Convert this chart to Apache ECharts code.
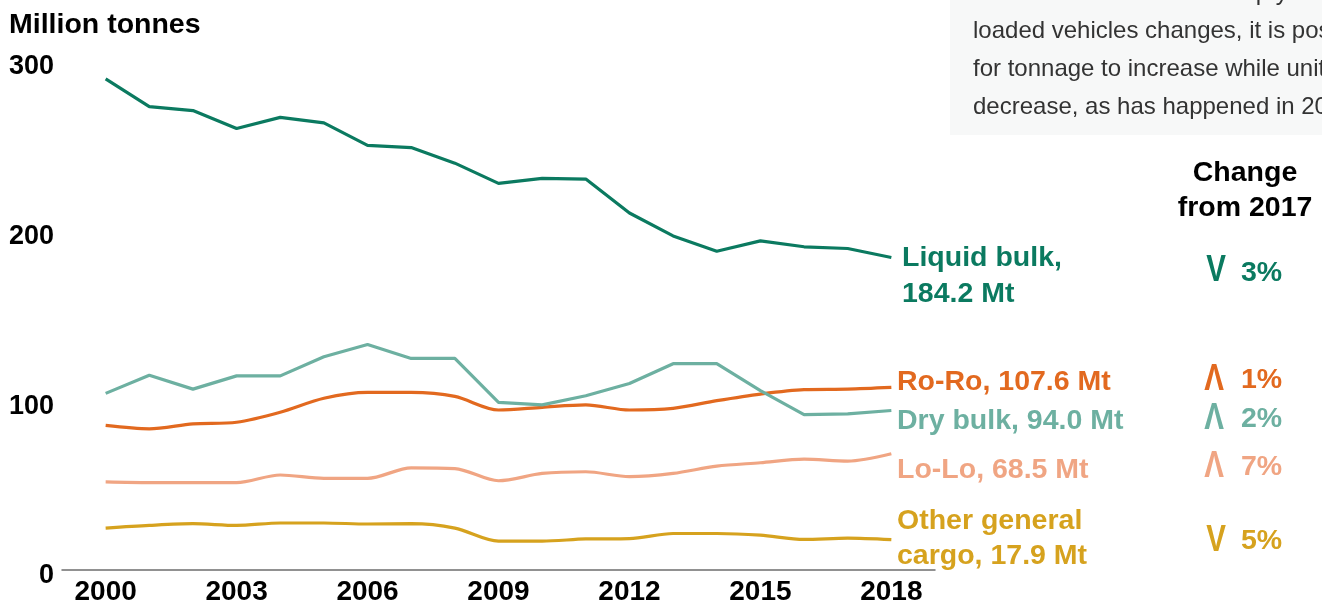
<!DOCTYPE html>
<html lang="en">
<head>
<meta charset="UTF-8" />
<title>Port freight tonnage by cargo type</title>
<script src="https://cdn.jsdelivr.net/npm/echarts@6/dist/echarts.min.js"></script>
<style>
  html, body { margin: 0; padding: 0; background: #fff; }
  #chart { width: 1322px; height: 606px; }
</style>
</head>
<body>
<div id="chart"></div>
<script>
// values, million tonnes
const years = [2000, 2001, 2002, 2003, 2004, 2005, 2006, 2007, 2008, 2009,
               2010, 2011, 2012, 2013, 2014, 2015, 2016, 2017, 2018];
const liquidBulk = [289.5, 273.1, 270.8, 260.2, 266.8, 263.5, 250.3, 249.0, 239.8, 227.9,
                    230.8, 230.4, 210.4, 196.9, 187.9, 194.0, 190.5, 189.5, 184.2];
const roRo = [85.2, 83.2, 86.1, 87.1, 93.0, 101.2, 104.7, 104.7, 102.3, 94.3,
              95.9, 97.3, 94.3, 95.3, 99.8, 103.7, 106.3, 106.6, 107.6];
const dryBulk = [104.1, 114.8, 106.6, 114.4, 114.4, 125.7, 132.9, 124.7, 124.7, 98.8,
                 97.3, 102.7, 109.9, 121.6, 121.6, 105.7, 91.6, 92.0, 94.0];
const loLo = [51.9, 51.5, 51.5, 51.5, 56.0, 54.0, 54.0, 60.2, 59.8, 52.6,
              56.9, 57.9, 55.0, 56.9, 61.2, 63.2, 65.3, 64.2, 68.5];
const otherCargo = [24.7, 26.3, 27.3, 26.3, 27.7, 27.7, 27.1, 27.3, 24.7, 17.0,
                    17.0, 18.3, 18.5, 21.5, 21.5, 20.5, 18.0, 18.8, 17.9];
const yTicks = [0, 100, 200, 300];
const xTickYears = [2000, 2003, 2006, 2009, 2012, 2015, 2018];

const FONT = "'Liberation Sans', Arial, sans-serif";
const C = {
    liquid: '#0b7a60',
    roro: '#e2691f',
    dry: '#6db0a1',
    lolo: '#f0a583',
    other: '#d6a21e'
};

const pairs = (vals) => years.map((y, i) => [y, vals[i]]);

const chart = echarts.init(document.getElementById('chart'));

const lineSeries = (name, vals, color, smooth) => ({
    name: name,
    type: 'line',
    data: pairs(vals),
    showSymbol: false,
    smooth: smooth,
    lineStyle: { color: color, width: 3.2 },
    itemStyle: { color: color },
    silent: true
});

const label = (x, y, text, color, align) => ({
    type: 'text',
    x: x, y: y,
    style: {
        text: text,
        fill: color,
        font: 'bold 28.5px ' + FONT,
        align: align || 'left',
        verticalAlign: 'middle'
    }
});

// arrow glyph + percentage, "change from 2017" column
const change = (xArrow, yArrow, yPct, arrow, pct, color) => [
    {
        type: 'text',
        x: xArrow, y: yArrow,
        scaleX: 0.82,
        style: { text: arrow, fill: color, font: 'bold 36px ' + FONT, align: 'center', verticalAlign: 'middle' }
    },
    {
        type: 'text',
        x: 1241, y: yPct,
        style: { text: pct, fill: color, font: 'bold 28.5px ' + FONT, verticalAlign: 'middle' }
    }
];

const noteLine = (y, text) => ({
    type: 'text', x: 973, y: y,
    style: { text: text, fill: '#333', font: '24px ' + FONT, verticalAlign: 'bottom' }
});

const option = {
    animation: false,
    backgroundColor: '#ffffff',
    grid: { left: 62, right: 387, top: 61, bottom: 32 },
    xAxis: {
        type: 'value',
        min: 1999,
        max: 2019,
        interval: 1,
        axisLine: { show: true, lineStyle: { color: '#6e6e6e', width: 1.5 } },
        axisTick: { show: false },
        splitLine: { show: false },
        axisLabel: {
            margin: 8,
            color: '#000',
            fontFamily: FONT,
            fontWeight: 'bold',
            fontSize: 28,
            formatter: (v) => xTickYears.indexOf(v) >= 0 ? String(v) : ''
        }
    },
    yAxis: {
        type: 'value',
        min: yTicks[0],
        max: yTicks[yTicks.length - 1],
        interval: 100,
        axisLine: { show: false },
        axisTick: { show: false },
        splitLine: { show: false },
        axisLabel: {
            margin: 8,
            formatter: (v) => '{v|' + v + '}',
            rich: {
                v: {
                    color: '#000',
                    fontFamily: FONT,
                    fontWeight: 'bold',
                    fontSize: 27,
                    padding: [12, 0, 0, 0]
                }
            }
        }
    },
    series: [
        lineSeries('Other general cargo', otherCargo, C.other, 0.3),
        lineSeries('Lo-Lo', loLo, C.lolo, 0.3),
        lineSeries('Ro-Ro', roRo, C.roro, 0.3),
        lineSeries('Dry bulk', dryBulk, C.dry, false),
        lineSeries('Liquid bulk', liquidBulk, C.liquid, false)
    ],
    graphic: [
        // note box, top right
        { type: 'rect', shape: { x: 950, y: 0, width: 372, height: 135 }, style: { fill: '#f7f8f8' } },
        noteLine(5, 'Therefore if the ratio of empty to'),
        noteLine(43, 'loaded vehicles changes, it is possible'),
        noteLine(81, 'for tonnage to increase while units'),
        noteLine(119, 'decrease, as has happened in 2018.'),

        label(9, 25, 'Million tonnes', '#000'),

        label(902, 258, 'Liquid bulk,', C.liquid),
        label(902, 294, '184.2 Mt', C.liquid),
        label(897, 382, 'Ro-Ro, 107.6 Mt', C.roro),
        label(897, 421, 'Dry bulk, 94.0 Mt', C.dry),
        label(897, 470, 'Lo-Lo, 68.5 Mt', C.lolo),
        label(897, 521, 'Other general', C.other),
        label(897, 556, 'cargo, 17.9 Mt', C.other),

        label(1245, 173, 'Change', '#000', 'center'),
        label(1245, 208, 'from 2017', '#000', 'center')
    ].concat(
        change(1216, 271, 273, 'V', '3%', C.liquid),
        change(1214, 380, 380, 'Λ', '1%', C.roro),
        change(1214, 419, 419, 'Λ', '2%', C.dry),
        change(1214, 467, 467, 'Λ', '7%', C.lolo),
        change(1216, 541, 541, 'V', '5%', C.other)
    )
};

chart.setOption(option);
</script>
</body>
</html>
